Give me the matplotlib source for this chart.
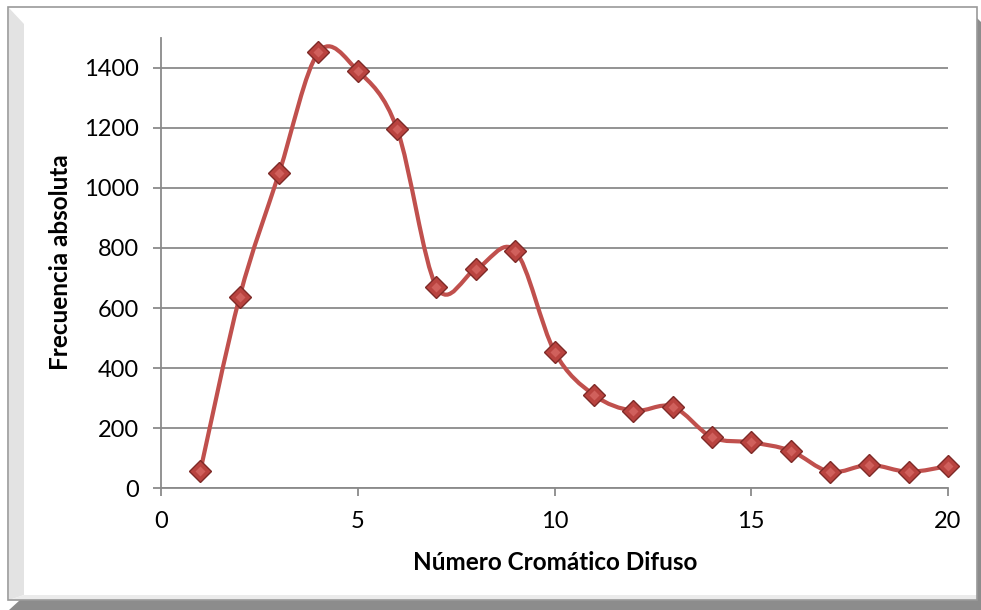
import numpy as np
import matplotlib
matplotlib.use("Agg")
import matplotlib.pyplot as plt
from matplotlib.patches import Rectangle, Polygon
from matplotlib.path import Path
from matplotlib.patches import PathPatch

# ---- data ----
x_vals = [1, 2, 3, 4, 5, 6, 7, 8, 9, 10, 11, 12, 13, 14, 15, 16, 17, 18, 19, 20]
freq = [58, 638, 1049, 1451, 1390, 1196, 671, 729, 791, 455,
        311, 258, 272, 170, 153, 125, 55, 78, 55, 74]
y_ticks = [0, 200, 400, 600, 800, 1000, 1200, 1400]
x_ticks = [0, 5, 10, 15, 20]
x_label = "Número Cromático Difuso"
y_label = "Frecuencia absoluta"

plt.rcParams['font.family'] = ['Lato', 'DejaVu Sans']

W, H = 981, 610
fig = plt.figure(figsize=(W / 100, H / 100), dpi=100)
fig.patch.set_facecolor('white')

def fx(px):
    return px / W

def fy(py):
    return 1 - py / H

# shadow bands (right & bottom)
fig.patches.append(Polygon([(fx(977), fy(18)), (fx(981), fy(22)), (fx(981), fy(610)),
                            (fx(977), fy(610))], closed=True, transform=fig.transFigure,
                           facecolor='#8c8c8c', edgecolor='none', zorder=0))
fig.patches.append(Polygon([(fx(9), fy(610)), (fx(20), fy(600)), (fx(981), fy(600)),
                            (fx(981), fy(610))], closed=True, transform=fig.transFigure,
                           facecolor='#8c8c8c', edgecolor='none', zorder=0))
# left bevel
fig.patches.append(Polygon([(fx(9), fy(8)), (fx(24), fy(24)), (fx(24), fy(595)),
                            (fx(9), fy(600))], closed=True, transform=fig.transFigure,
                           facecolor='#e3e3e3', edgecolor='none', zorder=0))
# bottom bevel
fig.patches.append(Polygon([(fx(9), fy(600)), (fx(24), fy(595)), (fx(977), fy(595)),
                            (fx(977), fy(600))], closed=True, transform=fig.transFigure,
                           facecolor='#ebebeb', edgecolor='none', zorder=0))
# outer border
fig.patches.append(Rectangle((fx(8), fy(600)), fx(977) - fx(8), fy(7) - fy(600),
                             transform=fig.transFigure, facecolor='none',
                             edgecolor='#9a9a9a', linewidth=1.2, zorder=1))

# ---- axes ----
left, right = 161, 948
top, bottom = 37.7, 488.3
ax = fig.add_axes([fx(left), fy(bottom), fx(right) - fx(left), fy(top) - fy(bottom)])
ax.set_facecolor('none')
ax.set_xlim(0, 20)
ax.set_ylim(0, 1500)

# smooth curve (Excel-like bezier smoothing through the data points)
xs = np.array(x_vals, dtype=float)
ys = np.array(freq, dtype=float)
P = np.column_stack([xs, ys])
verts = [tuple(P[0])]
codes = [Path.MOVETO]
n = len(P)
for i in range(n - 1):
    p0 = P[i - 1] if i > 0 else P[i]
    p1 = P[i]
    p2 = P[i + 1]
    p3 = P[i + 2] if i + 2 < n else P[i + 1]
    c1 = p1 + (p2 - p0) / 6.0
    c2 = p2 - (p3 - p1) / 6.0
    verts += [tuple(c1), tuple(c2), tuple(p2)]
    codes += [Path.CURVE4, Path.CURVE4, Path.CURVE4]
curve = PathPatch(Path(verts, codes), facecolor='none', edgecolor='#C0504D',
                  linewidth=3.0, zorder=3, capstyle='round', joinstyle='round')
ax.add_patch(curve)

ax.plot(xs, ys, linestyle='none', marker='D', markersize=11,
        markerfacecolor='#B9433F', markeredgecolor='#7E2A27', markeredgewidth=1.0,
        zorder=4, clip_on=False)
ax.plot(xs, ys, linestyle='none', marker='D', markersize=5,
        markerfacecolor='#D0605C', markeredgecolor='none', zorder=5, clip_on=False)

ax.set_yticks(y_ticks)
ax.set_xticks(x_ticks)
ax.grid(axis='y', color='#8a8a8a', linewidth=1.3)
ax.set_axisbelow(True)
for s in ['top', 'right']:
    ax.spines[s].set_visible(False)
for s in ['left', 'bottom']:
    ax.spines[s].set_color('#8a8a8a')
    ax.spines[s].set_linewidth(1.3)
ax.tick_params(axis='both', direction='out', length=6, width=1.3, color='#8a8a8a',
               labelsize=17, labelcolor='black')
ax.tick_params(axis='y', pad=10)
ax.tick_params(axis='x', pad=10)

fig.text(fx(555), fy(563), x_label, ha='center', va='center', fontsize=17.5,
         fontweight='bold')
fig.text(fx(61), fy(262), y_label, ha='center', va='center', rotation=90,
         fontsize=17.5, fontweight='bold')

fig.savefig('out.png', dpi=100, facecolor='white')
